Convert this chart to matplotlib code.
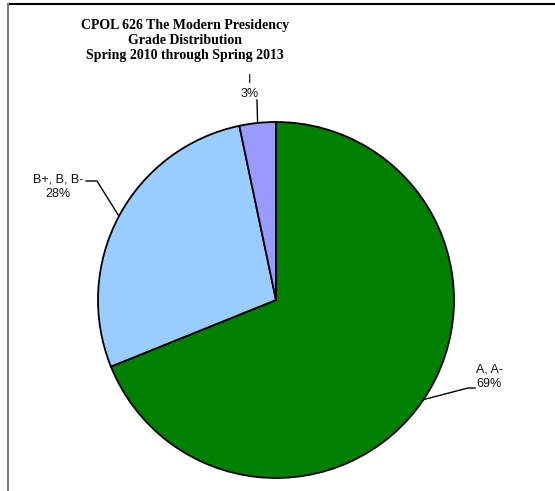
import matplotlib
matplotlib.use("Agg")
import matplotlib.pyplot as plt
import numpy as np
from matplotlib.lines import Line2D

categories = ["A, A-", "B+, B, B-", "I"]
values = [68.9, 27.8, 3.3]
colors = ["#008000", "#99CCFF", "#9999FF"]
title = "CPOL 626 The Modern Presidency\nGrade Distribution\nSpring 2010 through Spring 2013"

W, H = 555, 491
fig = plt.figure(figsize=(W / 100, H / 100), dpi=100)
fig.patch.set_facecolor("white")
ax = fig.add_axes([0, 0, 1, 1])

cx, cy, r = 276, H - 300, 178
wedges, _ = ax.pie(values, colors=colors, startangle=90, counterclock=False,
                   center=(cx, cy), radius=r, frame=True,
                   wedgeprops=dict(edgecolor="black", linewidth=1.3))
ax.set_xlim(0, W)
ax.set_ylim(0, H)
ax.set_aspect("equal")
ax.axis("off")

total = sum(values)
# label text position (image px) and elbow point of leader line (image px)
label_pos = [(489, 377), (58, 187), (250, 87)]
elbows = [[(475, 388), (468, 388)], [(86, 181), (97, 181)], [(257, 100)]]

for w, cat, v, (tx, ty), elb in zip(wedges, categories, values, label_pos, elbows):
    mid = np.deg2rad((w.theta1 + w.theta2) / 2)
    ex, ey = cx + r * np.cos(mid), cy + r * np.sin(mid)
    xs = [p[0] for p in elb] + [ex]
    ys = [H - p[1] for p in elb] + [ey]
    ax.plot(xs, ys, color="black", lw=1.0, zorder=0.5)
    pct = round(100 * v / total)
    ax.text(tx, H - ty, f"{cat}\n{pct}%", ha="center", va="center",
            fontsize=9, family="Liberation Sans", color="#111111", linespacing=1.25)

fig.text(185 / W, 1 - 41 / H, title, ha="center", va="center", fontsize=10,
         family="Liberation Serif", weight="bold", linespacing=1.2)

# chart area border (top and left visible)
fig.add_artist(Line2D([8 / W, 1], [1 - 4 / H, 1 - 4 / H], color="black", lw=1.5,
                      transform=fig.transFigure))
fig.add_artist(Line2D([8 / W, 8 / W], [0, 1 - 4 / H], color="#808080", lw=1.5,
                      transform=fig.transFigure))

fig.savefig("out.png", dpi=100, facecolor="white")
